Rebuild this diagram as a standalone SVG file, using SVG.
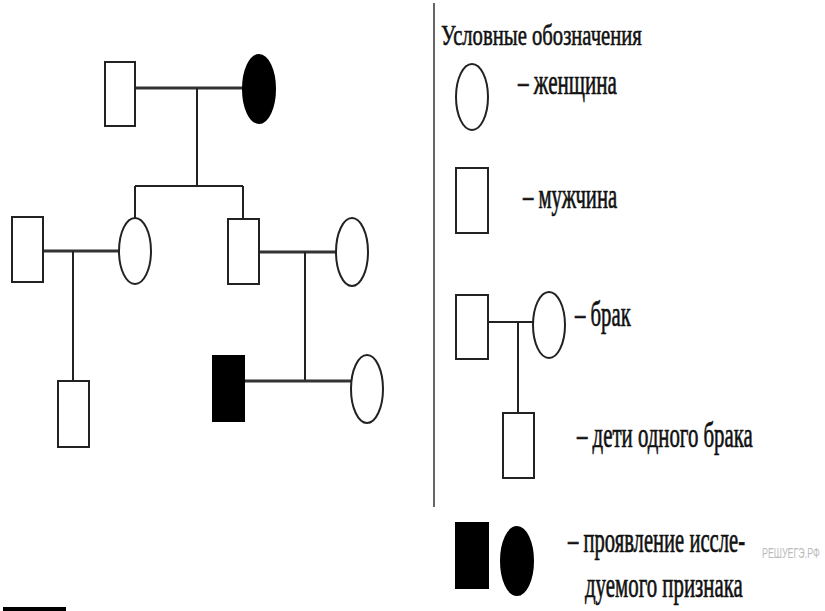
<svg xmlns="http://www.w3.org/2000/svg" width="825" height="611" viewBox="0 0 825 611">
<style>
.m{fill:#fff;stroke:#222;stroke-width:2}
.f{fill:#000;stroke:#000;stroke-width:2}
.mar{stroke:#333;stroke-width:3;fill:none}
.desc{stroke:#222;stroke-width:2;fill:none}
.t{font-family:"Liberation Serif","Times New Roman",serif;fill:#111;stroke:#111;stroke-width:0.7;font-size:36px}
.wm{font-family:"Liberation Sans",Arial,sans-serif;font-size:15px;fill:#bbb}
</style>
<rect width="825" height="611" fill="#fff"/>
<g id="connectors">
<line class="mar" x1="136" y1="88" x2="243" y2="88"/>
<line class="desc" x1="197" y1="88" x2="197" y2="186"/>
<line class="desc" x1="135" y1="186" x2="243" y2="186"/>
<line class="desc" x1="135" y1="186" x2="135" y2="218"/>
<line class="desc" x1="243" y1="186" x2="243" y2="219"/>
<line class="mar" x1="43" y1="251" x2="119" y2="251"/>
<line class="desc" x1="73" y1="251" x2="73" y2="381"/>
<line class="mar" x1="259" y1="252" x2="336" y2="252"/>
<line class="desc" x1="305" y1="252" x2="305" y2="381"/>
<line class="mar" x1="244" y1="381" x2="351" y2="381"/>
<line class="desc" x1="488" y1="322" x2="533" y2="322"/>
<line class="desc" x1="518" y1="322" x2="518" y2="413"/>
</g>
<g id="n_gf"><rect class="m" x="105" y="62" width="30" height="64"/></g>
<g id="n_gm"><ellipse class="f" cx="259" cy="89" rx="16" ry="34"/></g>
<g id="n_h1"><rect class="m" x="12" y="217" width="31" height="65"/></g>
<g id="n_d1"><ellipse class="m" cx="135" cy="251" rx="16" ry="33"/></g>
<g id="n_s1"><rect class="m" x="228" y="219" width="31" height="65"/></g>
<g id="n_w1"><ellipse class="m" cx="352" cy="252" rx="16" ry="34"/></g>
<g id="n_c1"><rect class="m" x="58" y="381" width="31" height="66"/></g>
<g id="n_c2"><rect class="f" x="213" y="356" width="31" height="65"/></g>
<g id="n_c3"><ellipse class="m" cx="367" cy="389" rx="16" ry="34"/></g>
<g id="legend">
<line x1="434" y1="3" x2="434" y2="507" stroke="#666" stroke-width="2"/>
<text class="t" transform="translate(441,45) scale(0.65,1)" style="font-size:30px;stroke-width:0.6" textLength="309" lengthAdjust="spacingAndGlyphs">Условные обозначения</text>
<ellipse class="m" cx="472" cy="97" rx="16" ry="33"/>
<text class="t" transform="translate(518,94) scale(0.6,1)" textLength="165" lengthAdjust="spacingAndGlyphs">– женщина</text>
<rect class="m" x="456" y="168" width="32" height="65"/>
<text class="t" transform="translate(523,208) scale(0.6,1)" textLength="157" lengthAdjust="spacingAndGlyphs">– мужчина</text>
<rect class="m" x="456" y="295" width="32" height="64"/>
<ellipse class="m" cx="549" cy="325" rx="16" ry="33"/>
<text class="t" transform="translate(575,326) scale(0.6,1)" textLength="93" lengthAdjust="spacingAndGlyphs">– брак</text>
<rect class="m" x="503" y="413" width="31" height="65"/>
<text class="t" transform="translate(577,447) scale(0.6,1)" textLength="293" lengthAdjust="spacingAndGlyphs">– дети одного брака</text>
<rect class="f" x="456" y="523" width="32" height="65"/>
<ellipse class="f" cx="517" cy="561" rx="16" ry="34"/>
<text class="t" transform="translate(568,552) scale(0.6,1)" textLength="295" lengthAdjust="spacingAndGlyphs">– проявление иссле-</text>
<text class="t" transform="translate(585,597) scale(0.6,1)" textLength="263" lengthAdjust="spacingAndGlyphs">дуемого признака</text>
</g>
<text class="wm" transform="translate(762,558) scale(0.55,1)" textLength="105" lengthAdjust="spacingAndGlyphs">РЕШУЕГЭ.РФ</text>
<rect x="3" y="607" width="63" height="4" fill="#000"/>
</svg>
